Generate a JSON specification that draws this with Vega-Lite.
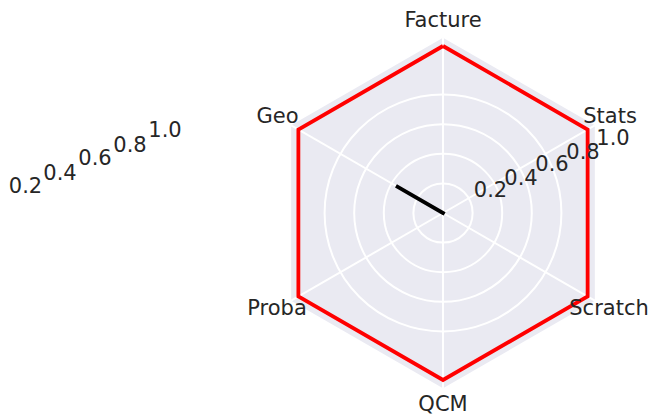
{
  "$schema": "https://vega.github.io/schema/vega-lite/v6.json",
  "width": 657,
  "height": 416,
  "padding": 0,
  "autosize": {"type": "none"},
  "background": "white",
  "config": {"view": {"stroke": null}},
  "datasets": {
    "frame": [
      {"x": -0.9093, "y": -0.525, "y2": 0.525},
      {"x": 0, "y": -1.05, "y2": 1.05},
      {"x": 0.9093, "y": -0.525, "y2": 0.525}
    ],
    "rings": [
      {"r": 0.2, "x": 0, "y": 0, "s": 3505},
      {"r": 0.4, "x": 0, "y": 0, "s": 14019},
      {"r": 0.6, "x": 0, "y": 0, "s": 31542},
      {"r": 0.8, "x": 0, "y": 0, "s": 56074}
    ],
    "spokes": [
      {"x": 0, "y": 0, "x2": 0, "y2": 1.05},
      {"x": 0, "y": 0, "x2": 0.9093, "y2": 0.525},
      {"x": 0, "y": 0, "x2": 0.9093, "y2": -0.525},
      {"x": 0, "y": 0, "x2": 0, "y2": -1.05},
      {"x": 0, "y": 0, "x2": -0.9093, "y2": -0.525},
      {"x": 0, "y": 0, "x2": -0.9093, "y2": 0.525}
    ],
    "series": [
      {"s": "A", "i": 0, "cat": "Facture", "x": 0, "y": 1},
      {"s": "A", "i": 1, "cat": "Stats", "x": 0.866, "y": 0.5},
      {"s": "A", "i": 2, "cat": "Scratch", "x": 0.866, "y": -0.5},
      {"s": "A", "i": 3, "cat": "QCM", "x": 0, "y": -1},
      {"s": "A", "i": 4, "cat": "Proba", "x": -0.866, "y": -0.5},
      {"s": "A", "i": 5, "cat": "Geo", "x": -0.866, "y": 0.5},
      {"s": "A", "i": 6, "cat": "Facture", "x": 0, "y": 1}
    ],
    "series2": [
      {"i": 0, "x": 0, "y": 0},
      {"i": 1, "x": -0.2815, "y": 0.1625},
      {"i": 2, "x": 0, "y": 0}
    ],
    "labels": [
      {"t": "Facture", "x": 0, "y": 1.1138},
      {"t": "Stats", "x": 1.0, "y": 0.5389},
      {"t": "Geo", "x": -0.991, "y": 0.5389},
      {"t": "Scratch", "x": 0.994, "y": -0.6108},
      {"t": "Proba", "x": -0.994, "y": -0.6108},
      {"t": "QCM", "x": 0, "y": -1.1856},
      {"t": "0.2", "x": 0.2844, "y": 0.0958},
      {"t": "0.4", "x": 0.467, "y": 0.1677},
      {"t": "0.6", "x": 0.6527, "y": 0.2515},
      {"t": "0.8", "x": 0.8383, "y": 0.3234},
      {"t": "1.0", "x": 1.018, "y": 0.4072},
      {"t": "0.2", "x": -2.5, "y": 0.1198},
      {"t": "0.4", "x": -2.2934, "y": 0.1976},
      {"t": "0.6", "x": -2.0838, "y": 0.2874},
      {"t": "0.8", "x": -1.8743, "y": 0.3653},
      {"t": "1.0", "x": -1.6647, "y": 0.4551}
    ]
  },
  "layer": [
    {
      "data": {"name": "frame"},
      "mark": {"type": "area", "color": "#EAEAF2", "orient": "vertical"},
      "encoding": {
        "x": {"field": "x", "type": "quantitative", "scale": {"domain": [-2.6527, 1.2814], "nice": false, "zero": false}, "axis": null},
        "y": {"field": "y", "type": "quantitative", "scale": {"domain": [-1.2156, 1.2754], "nice": false, "zero": false}, "axis": null},
        "y2": {"field": "y2"}
      }
    },
    {
      "data": {"name": "rings"},
      "mark": {"type": "point", "shape": "circle", "filled": false, "stroke": "white", "strokeWidth": 2, "opacity": 1},
      "encoding": {
        "x": {"field": "x", "type": "quantitative"},
        "y": {"field": "y", "type": "quantitative"},
        "size": {"field": "s", "type": "quantitative", "scale": null, "legend": null}
      }
    },
    {
      "data": {"name": "spokes"},
      "mark": {"type": "rule", "color": "white", "strokeWidth": 2},
      "encoding": {
        "x": {"field": "x", "type": "quantitative"},
        "y": {"field": "y", "type": "quantitative"},
        "x2": {"field": "x2"},
        "y2": {"field": "y2"}
      }
    },
    {
      "data": {"name": "series"},
      "mark": {"type": "line", "color": "#FF0000", "strokeWidth": 3.8, "strokeJoin": "miter"},
      "encoding": {
        "x": {"field": "x", "type": "quantitative"},
        "y": {"field": "y", "type": "quantitative"},
        "order": {"field": "i", "type": "quantitative"}
      }
    },
    {
      "data": {"name": "series2"},
      "mark": {"type": "line", "color": "#000000", "strokeWidth": 3.8, "strokeCap": "square"},
      "encoding": {
        "x": {"field": "x", "type": "quantitative"},
        "y": {"field": "y", "type": "quantitative"},
        "order": {"field": "i", "type": "quantitative"}
      }
    },
    {
      "data": {"name": "labels"},
      "mark": {"type": "text", "font": "DejaVu Sans", "fontSize": 21, "color": "#262626", "align": "center", "baseline": "alphabetic"},
      "encoding": {
        "x": {"field": "x", "type": "quantitative"},
        "y": {"field": "y", "type": "quantitative"},
        "text": {"field": "t", "type": "nominal"}
      }
    }
  ]
}
